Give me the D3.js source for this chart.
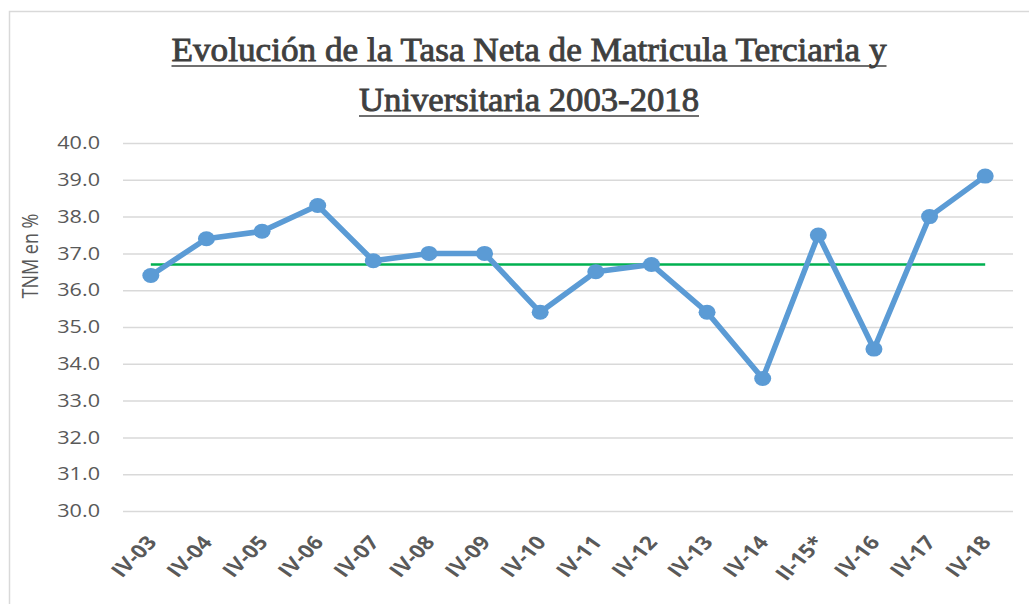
<!DOCTYPE html>
<html>
<head>
<meta charset="utf-8">
<script src="https://cdn.jsdelivr.net/npm/d3@7"></script>
<style>
  body { margin: 0; background: #fff; }
  svg { display: block; }
</style>
</head>
<body>
<svg id="chart" width="1029" height="604"></svg>
<script>
// periodos (trimestre-año) y tasa neta de matricula en %
const periodos = ["IV-03","IV-04","IV-05","IV-06","IV-07","IV-08","IV-09","IV-10",
                  "IV-11","IV-12","IV-13","IV-14","II-15*","IV-16","IV-17","IV-18"];
const tnm = [36.4, 37.4, 37.6, 38.3, 36.8, 37.0, 37.0, 35.4,
             36.5, 36.7, 35.4, 33.6, 37.5, 34.4, 38.0, 39.1];
// linea verde (promedio del periodo)
const promedio = [36.7, 36.7];
const yTicks = [30, 31, 32, 33, 34, 35, 36, 37, 38, 39, 40];
const titulo = ["Evolución de la Tasa Neta de Matricula Terciaria y",
                "Universitaria 2003-2018"];

const svg = d3.select("#chart");
// la imagen original viene estirada en horizontal
const sx = 1.2;

// marco del grafico
svg.append("rect")
    .attr("x", 9.5).attr("y", 11.5)
    .attr("width", 1040).attr("height", 620)
    .attr("fill", "none")
    .attr("stroke", "#d9d9d9")
    .attr("stroke-width", 1.5);

const mLeft = 123, mRight = 1013, mTop = 143, mBottom = 511;

const x = d3.scaleBand()
    .domain(periodos)
    .range([mLeft, mRight]);

const y = d3.scaleLinear()
    .domain([30, 40])
    .range([mBottom, mTop]);

// lineas de grilla + etiquetas Y
const yAxis = d3.axisLeft(y)
    .tickValues(yTicks)
    .tickFormat(d3.format(".1f"))
    .tickSize(-(mRight - mLeft));

svg.append("g")
    .attr("transform", `translate(${mLeft},0)`)
    .call(yAxis)
    .call(g => g.select(".domain").remove())
    .call(g => g.selectAll(".tick line")
        .attr("stroke", "#d9d9d9")
        .attr("stroke-width", 1.5))
    .call(g => g.selectAll(".tick text")
        .attr("x", 0)
        .attr("transform", `translate(-23,0) scale(${sx},1)`)
        .attr("fill", "#595959")
        .style("font-family", "'Open Sans', sans-serif")
        .style("font-size", "18px"));

// etiquetas X rotadas
const xAxis = d3.axisBottom(x).tickSize(0);
svg.append("g")
    .attr("transform", `translate(0,${mBottom})`)
    .call(xAxis)
    .call(g => g.select(".domain").remove())
    .call(g => g.selectAll(".tick text")
        .attr("fill", "#595959")
        .attr("text-anchor", "end")
        .attr("dy", 0)
        .attr("y", 0)
        .attr("transform", `translate(7,32) scale(${sx},1) rotate(-50)`)
        .style("font-family", "'Open Sans', sans-serif")
        .style("font-weight", "bold")
        .style("font-size", "19px"));

// titulo eje Y
svg.append("text")
    .attr("transform", `translate(38,256) scale(${sx},1) rotate(-90)`)
    .attr("text-anchor", "middle")
    .attr("fill", "#595959")
    .style("font-family", "'Open Sans', sans-serif")
    .style("font-size", "18px")
    .text("TNM en %");

// linea promedio
const cx = d => x(d) + x.bandwidth() / 2;
svg.append("line")
    .attr("x1", cx(periodos[0]))
    .attr("x2", cx(periodos[periodos.length - 1]))
    .attr("y1", y(promedio[0]))
    .attr("y2", y(promedio[1]))
    .attr("stroke", "#00b050")
    .attr("stroke-width", 2.5);

// serie principal
const line = d3.line()
    .x((d, i) => cx(periodos[i]))
    .y(d => y(d));

svg.append("path")
    .datum(tnm)
    .attr("fill", "none")
    .attr("stroke", "#5b9bd5")
    .attr("stroke-width", 5.5)
    .attr("stroke-linejoin", "round")
    .attr("d", line);

svg.append("g")
    .selectAll("ellipse")
    .data(tnm)
    .join("ellipse")
    .attr("cx", (d, i) => cx(periodos[i]))
    .attr("cy", d => y(d))
    .attr("rx", 8.5)
    .attr("ry", 7.5)
    .attr("fill", "#5b9bd5");

// titulo
const tw = [715, 340];
titulo.forEach((t, i) => {
    const yb = 61 + i * 50;
    svg.append("text")
        .attr("x", 529)
        .attr("y", yb)
        .attr("text-anchor", "middle")
        .attr("textLength", tw[i])
        .attr("lengthAdjust", "spacingAndGlyphs")
        .attr("fill", "#3f3f3f")
        .attr("stroke", "#3f3f3f")
        .attr("stroke-width", 0.9)
        .style("font-family", "'Liberation Serif', serif")
        .style("font-size", "34px")
        .text(t);
    svg.append("line")
        .attr("x1", 529 - tw[i] / 2)
        .attr("x2", 529 + tw[i] / 2)
        .attr("y1", yb + 5)
        .attr("y2", yb + 5)
        .attr("stroke", "#3f3f3f")
        .attr("stroke-width", 1.5);
});
</script>
</body>
</html>
